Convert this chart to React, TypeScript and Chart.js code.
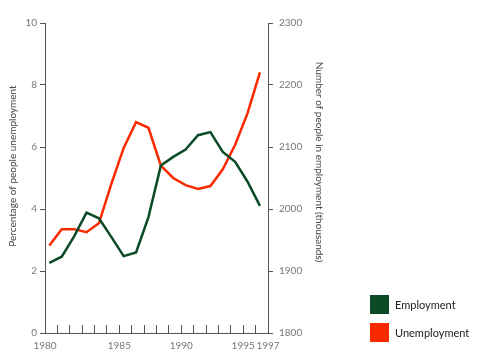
import React, { useEffect, useRef } from "react";
import { Chart, registerables } from "chart.js";

Chart.register(...registerables);

// Data (one point per axis step)
const unemploymentPct = [2.82, 3.35, 3.35, 3.25, 3.54, 4.8, 5.97, 6.8, 6.62, 5.4, 5.0, 4.77, 4.65, 4.74, 5.28, 6.07, 7.09, 8.41];
const employmentThousands = [1913, 1923, 1956, 1994, 1985, 1955, 1924, 1930, 1987, 2070, 2084, 2096, 2119, 2124, 2092, 2076, 2044, 2005];
const xTickLabels = ["1980", "", "", "", "", "", "1985", "", "", "", "", "1990", "", "", "", "", "1995", "", "1997"];
const seriesLabels = ["Employment", "Unemployment"];
const leftTitle = "Percentage of people unemployment";
const rightTitle = "Number of people in employment (thousands)";

const GREEN = "#0b4a27";
const RED = "#fa2a00";
const AXIS = "#555555";
const X_SHIFT = 0.35;

const titlesPlugin = {
  id: "axisTitlesCustom",
  afterDraw(chart: any) {
    const { ctx, chartArea } = chart;
    ctx.save();
    ctx.font = "10px Lato";
    ctx.fillStyle = "#444";
    ctx.textAlign = "center";
    ctx.textBaseline = "middle";
    ctx.save();
    ctx.translate(chartArea.left - 32.5, chartArea.top + 143);
    ctx.rotate(-Math.PI / 2);
    ctx.fillText(leftTitle, 0, 0);
    ctx.restore();
    ctx.save();
    ctx.translate(chartArea.right + 51, chartArea.top + 139);
    ctx.rotate(Math.PI / 2);
    ctx.fillText(rightTitle, 0, 0);
    ctx.restore();
    ctx.restore();
  },
};

const legendPlugin = {
  id: "legendCustom",
  afterDraw(chart: any) {
    const { ctx, chartArea } = chart;
    const ds = chart.data.datasets;
    ctx.save();
    ctx.font = "11px Lato";
    ctx.textAlign = "left";
    ctx.textBaseline = "middle";
    ds.forEach((d: any, i: number) => {
      const x = chartArea.right + 102;
      const y = chartArea.bottom - 38 + i * 28;
      ctx.fillStyle = d.borderColor;
      ctx.fillRect(x, y, 19, 19);
      ctx.fillStyle = "#222";
      ctx.fillText(d.label, x + 25, y + 10);
    });
    ctx.restore();
  },
};

export default function App() {
  const ref = useRef<HTMLCanvasElement | null>(null);
  useEffect(() => {
    if (!ref.current) return;
    Chart.defaults.font.family = "Lato";
    const chart = new Chart(ref.current, {
      type: "line",
      data: {
        datasets: [
          {
            label: seriesLabels[0],
            data: employmentThousands.map((v, i) => ({ x: i + X_SHIFT, y: v })),
            borderColor: GREEN,
            backgroundColor: GREEN,
            borderWidth: 2.5,
            pointRadius: 0,
            tension: 0,
            yAxisID: "y1",
          },
          {
            label: seriesLabels[1],
            data: unemploymentPct.map((v, i) => ({ x: i + X_SHIFT, y: v })),
            borderColor: RED,
            backgroundColor: RED,
            borderWidth: 2.5,
            pointRadius: 0,
            tension: 0,
            yAxisID: "y",
          },
        ],
      },
      options: {
        animation: false,
        responsive: true,
        maintainAspectRatio: false,
        layout: { padding: { left: 0, right: 154, top: 23, bottom: 0 } },
        plugins: { legend: { display: false }, tooltip: { enabled: false } },
        scales: {
          x: {
            type: "linear",
            min: 0,
            max: xTickLabels.length - 1,
            ticks: {
              stepSize: 1,
              autoSkip: false,
              maxRotation: 0,
              color: "#777",
              font: { size: 10 },
              padding: 15,
              callback: (v: any) => xTickLabels[Math.round(Number(v))] ?? "",
            },
            grid: { drawOnChartArea: false, drawTicks: true, tickLength: -8, color: AXIS, lineWidth: 1 },
            border: { color: AXIS, width: 1 },
            afterFit: (s: any) => { s.height = 29; },
          },
          y: {
            position: "left",
            min: 0,
            max: 10,
            ticks: { stepSize: 2, color: "#777", font: { size: 10 }, padding: 3, callback: (v: any) => String(v) },
            grid: { drawOnChartArea: false, tickLength: 5, color: AXIS },
            border: { color: AXIS, width: 1 },
            afterFit: (s: any) => { s.width = 45; },
          },
          y1: {
            position: "right",
            min: 1800,
            max: 2300,
            ticks: { stepSize: 100, color: "#777", font: { size: 10 }, padding: 6, callback: (v: any) => String(v) },
            grid: { drawOnChartArea: false, tickLength: 5, color: AXIS },
            border: { color: AXIS, width: 1 },
            afterFit: (s: any) => { s.width = 60; },
          },
        },
      },
      plugins: [titlesPlugin, legendPlugin],
    } as any);
    return () => chart.destroy();
  }, []);
  return (
    <div style={{ position: "fixed", left: 0, top: 0, width: 482, height: 362, background: "#fff" }}>
      <canvas ref={ref} />
    </div>
  );
}
